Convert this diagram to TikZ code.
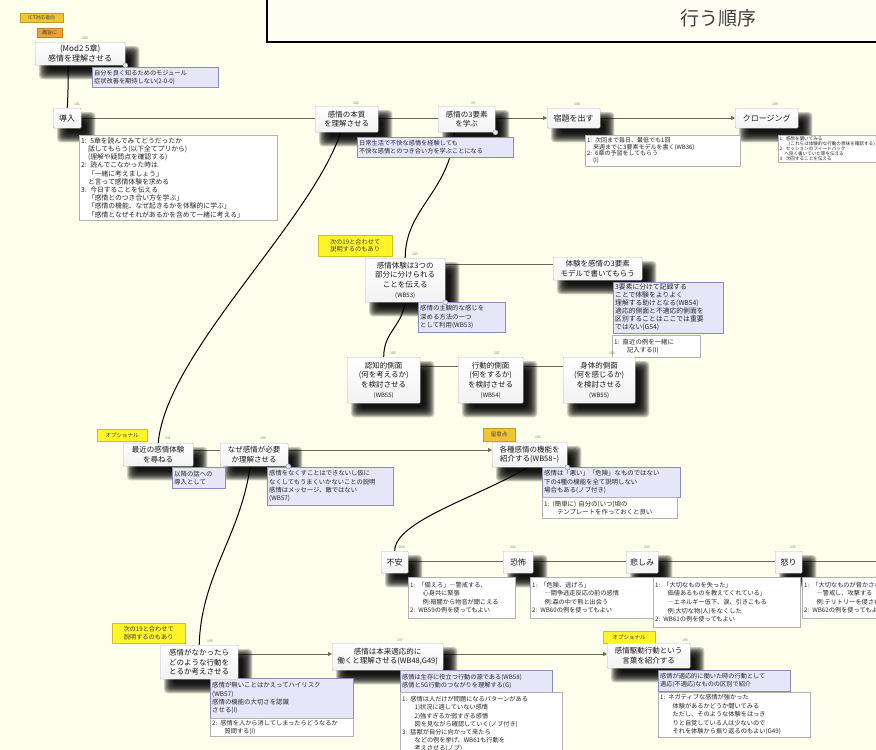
\documentclass[tikz,border=0pt]{standalone}
\usepackage{fontspec}
\setmainfont{Noto Sans CJK JP}
\usetikzlibrary{arrows.meta}
\pgfdeclarelayer{back}
\pgfdeclarelayer{conn}
\pgfdeclarelayer{shad}
\pgfsetlayers{back,conn,shad,main}
\definecolor{bgc}{RGB}{254,254,236}
\definecolor{hdrc}{RGB}{254,254,242}
\definecolor{calfill}{RGB}{230,230,248}
\definecolor{caldraw}{RGB}{140,140,185}
\definecolor{rowline}{RGB}{105,105,90}
\definecolor{ylw}{RGB}{255,244,40}
\definecolor{gold}{RGB}{240,196,50}
\definecolor{orng}{RGB}{240,162,50}
\tikzset{
  mnode/.style={draw=gray!55, line width=0.4pt, top color=white, bottom color=gray!10,
    rounded corners=1pt, align=center, inner sep=1pt, anchor=north west,
    font=\fontsize{7.5}{9.8}\selectfont, text=black!90},
  callout/.style={draw=caldraw, fill=calfill, line width=0.4pt, align=left, anchor=north west,
    inner sep=2pt, font=\fontsize{6.4}{8}\selectfont, text=black!85},
  note/.style={draw=gray!60, fill=white, line width=0.4pt, align=left, anchor=north west,
    inner sep=2pt, font=\fontsize{6.4}{8}\selectfont, text=black!85},
  tag/.style={anchor=north west, inner sep=0.5pt, align=center, fill=#1, draw=#1!80!black,
    line width=0.3pt, font=\fontsize{5.5}{6.8}\selectfont, text=black!75},
  num/.style={font=\fontsize{3.5}{4}\selectfont, text=gray, inner sep=0pt},
  row/.style={draw=rowline, line width=0.8pt},
  curve/.style={draw=black, line width=1pt},
  arr/.style={-{Triangle[length=4pt,width=4pt]}},
  dot/.style={circle, draw=caldraw, fill=calfill, inner sep=0pt, minimum size=5pt},
  shadowpart/.style={fill=black, opacity=0.2, rounded corners=4pt},
}
\newcommand\castshadow[1]{%
  \foreach \e in {-5,-4,...,5} {%
    \fill[shadowpart] ([xshift={(9-(\e))*1pt}, yshift={(-9+(\e))*1pt}]#1.north west)
      rectangle ([xshift={(9+(\e))*1pt}, yshift={(-9-(\e))*1pt}]#1.south east);
  }%
}
\begin{document}
\begin{tikzpicture}[x=1pt,y=-1pt]
\useasboundingbox (0,0) rectangle (876,750);
\begin{pgfonlayer}{back}
\fill[bgc] (0,0) rectangle (876,750);
\end{pgfonlayer}

% header
\draw[line width=1.1pt, fill=hdrc] (267,-5) rectangle (884,42);
\node[font=\fontsize{19}{21}\selectfont, text=black!75] (hdr) at (718,18) {行う順序};

% row coordinates
\coordinate (rA) at (0,118);
\coordinate (rB) at (0,264);
\coordinate (rC) at (0,366);
\coordinate (rD) at (0,450);
\coordinate (rE) at (0,561);
\coordinate (rF) at (0,654);
\coordinate (rEend) at (880,561);

% tags
\node[tag=gold, minimum width=43pt, minimum height=9pt, font=\fontsize{4.8}{5}\selectfont] (ict) at (20,13) {ICT対応者向};
\node[tag=orng, minimum width=25pt, minimum height=9pt, font=\fontsize{5}{5}\selectfont] (shushi) at (37,28) {趣旨に};
\node[tag=ylw, minimum width=74pt, minimum height=21pt, font=\fontsize{6.2}{7.6}\selectfont] (ya) at (318,235) {次の19と合わせて\\説明するのもあり};
\node[tag=ylw, minimum width=50pt, minimum height=12pt] (opta) at (97,429) {オプショナル};
\node[tag=gold, minimum width=32pt, minimum height=13pt] (ryui) at (483,428) {留意点};
\node[tag=ylw, minimum width=73pt, minimum height=20pt, font=\fontsize{6.2}{7.6}\selectfont] (yb) at (112,623) {次の19と合わせて\\説明するのもあり};
\node[tag=ylw, minimum width=52pt, minimum height=12pt] (optb) at (603,631) {オプショナル};

% callouts and notes
\node[callout, text width=122pt, minimum height=20pt, font=\fontsize{6.2}{7.8}\selectfont] (modc) at (92,67) {自分を良く知るためのモジュール\\症状改善を期待しない(2-0-0)};
\node[note, text width=194pt, minimum height=85pt, font=\fontsize{6.8}{8.2}\selectfont] (intn) at (79,135) {1: 5章を読んでみてどうだったか\\　話してもらう(以下全てプリから)\\　(理解や疑問点を確認する)\\2: 読んでこなかった時は\\　「一緒に考えましょう」\\　と言って感情体験を求める\\3: 今日することを伝える\\　「感情とのつき合い方を学ぶ」\\　「感情の機能、なぜ起きるかを体験的に学ぶ」\\　「感情となぜそれがあるかを含めて一緒に考える」};
\node[callout, text width=152pt, minimum height=20pt, font=\fontsize{6.2}{7.8}\selectfont] (honc) at (357,137) {日常生活で不快な感情を経験しても\\不快な感情とのつき合い方を学ぶことになる};
\node[note, text width=151pt, minimum height=28pt, font=\fontsize{6}{6.8}\selectfont] (shukn) at (585,135) {1: 次回まで毎日、最低でも1回\\　来週までに3要素モデルを書く(WB36)\\2: 6章の予習をしてもらう\\　(I)};
\node[note, text width=116pt, minimum height=27pt, inner sep=1.5pt, font=\fontsize{4.6}{4.9}\selectfont] (closn) at (778,135) {1: 感想を聞いてみる\\　　(これらは体験的な行動の意味を確認する)\\2: セッションのフィードバック\\　へ良く書いていた等を伝える\\3: 次回することを伝える};
\node[callout, text width=83pt, minimum height=30pt, font=\fontsize{6.4}{8.4}\selectfont] (t3c) at (418,302) {感情の主観的な感じを\\深める方法の一つ\\として利用(WB53)};
\node[callout, text width=106pt, minimum height=51pt, font=\fontsize{6.8}{8}\selectfont] (twc) at (613,282) {3要素に分けて記録する\\ことで体験をよりよく\\理解する助けとなる(WB54)\\適応的側面と不適応的側面を\\区別することはここでは重要\\ではない(G54)};
\node[note, text width=84pt, minimum height=22pt, font=\fontsize{6.4}{8}\selectfont] (twn) at (612,335) {1: 直近の例を一緒に\\　　記入する(I)};
\node[callout, text width=49pt, minimum height=21pt, font=\fontsize{6.4}{8}\selectfont] (sac) at (172,467) {以降の話への\\導入として};
\node[callout, text width=122pt, minimum height=38pt, font=\fontsize{6.3}{8.2}\selectfont] (nzc) at (267,467) {感情をなくすことはできないし仮に\\なくしてもうまくいかないことの説明\\感情はメッセージ、敵ではない\\(WB57)};
\node[callout, text width=134pt, minimum height=30pt, font=\fontsize{6.4}{8.4}\selectfont] (kkc) at (542,467) {感情は「悪い」「危険」なものではない\\下の4種の機能を全て説明しない\\場合もある(ノブ付き)};
\node[note, text width=131pt, minimum height=21pt, font=\fontsize{6.4}{8}\selectfont] (kkn) at (542,497) {1: (簡単に) 自分の(いつ)頃の\\　　テンプレートを作っておくと良い};
\node[note, text width=103pt, minimum height=41pt, font=\fontsize{6.2}{8.6}\selectfont] (fun) at (408,577) {1: 「備えろ」―警戒する、\\　　心身共に緊張\\　　例:暗闇から物音が聞こえる\\2: WB59の例を使ってもよい};
\node[note, text width=121pt, minimum height=41pt, font=\fontsize{6.2}{8.6}\selectfont] (kyn) at (530,577) {1: 「危険、逃げろ」\\　　―闘争逃走反応の前の感情\\　　例:森の中で熊と出会う\\2: WB60の例を使ってもよい};
\node[note, text width=143pt, minimum height=50pt, font=\fontsize{6.2}{8.6}\selectfont] (kan) at (653,577) {1: 「大切なものを失った」\\　　価値あるものを教えてくれている」\\　　―エネルギー低下、涙、引きこもる\\　　例:大切な物(人)をなくした\\2: WB61の例を使ってもよい};
\node[note, text width=121pt, minimum height=41pt, font=\fontsize{6.2}{8.6}\selectfont] (ikn) at (802,577) {1: 「大切なものが脅かされている」\\　　―警戒し、攻撃する\\　　例:テリトリーを侵される\\2: WB62の例を使ってもよい};
\node[callout, text width=139pt, minimum height=40pt, font=\fontsize{6.4}{8.4}\selectfont] (nkc) at (210,678) {感情が無いことはかえってハイリスク\\(WB57)\\感情の機能の大切さを認識\\させる(I)};
\node[note, text width=139pt, minimum height=18pt, font=\fontsize{6.2}{7.6}\selectfont] (nkn) at (210,718) {2: 感情を人から消してしまったらどうなるか\\　　質問する(I)};
\node[callout, text width=148pt, minimum height=22pt, font=\fontsize{6.2}{8}\selectfont] (hrc) at (400,670) {感情は生存に役立つ行動の源である(WB58)\\感情と5G行動のつながりを理解する(G)};
\node[note, text width=158pt, minimum height=64pt, font=\fontsize{6.2}{8.2}\selectfont] (hrn) at (400,692) {1: 感情は人だけが問題になるパターンがある\\　　1)状況に適していない感情\\　　2)強すぎるか弱すぎる感情\\　　図を見ながら確認していく(ノブ付き)\\3: 猛獣が自分に向かって来たら\\　　などの例を挙げ、WB61も行動を\\　　考えさせる(ノブ)};
\node[callout, text width=128pt, minimum height=21pt, font=\fontsize{6.2}{8}\selectfont] (kdc) at (658,670) {感情が適応的に働いた時の行動として\\適応(不適応)なものの区別で紹介};
\node[note, text width=148pt, minimum height=45pt, font=\fontsize{6.2}{8.4}\selectfont] (kdn) at (658,692) {1: ネガティブな感情が強かった\\　　体験があるかどうか聞いてみる\\　　ただし、そのような体験をはっき\\　　りと自覚している人は少ないので\\　　それを体験から振り返るのもよい(G49)};

% main nodes
\node[mnode, minimum width=90pt, minimum height=23pt, font=\fontsize{8}{10}\selectfont] (mod) at (35,42) {(Mod2 5章)\\感情を理解させる};
\node[mnode, minimum width=28pt, minimum height=20pt, font=\fontsize{8}{10}\selectfont] (intro) at (53,108) {導入};
\node[mnode, minimum width=63pt, minimum height=26pt] (honshitsu) at (315,106) {感情の本質\\を理解させる};
\node[mnode, minimum width=57pt, minimum height=26pt] (youso) at (438,106) {感情の3要素\\を学ぶ};
\node[mnode, minimum width=53pt, minimum height=20pt, font=\fontsize{8}{10}\selectfont] (shukudai) at (547,108) {宿題を出す};
\node[mnode, minimum width=63pt, minimum height=20pt, font=\fontsize{8}{10}\selectfont] (closing) at (735,108) {クロージング};
\node[mnode, minimum width=80pt, minimum height=44pt] (taiken3) at (365,258) {感情体験は3つの\\部分に分けられる\\ことを伝える\\{\fontsize{6}{8}\selectfont (WB53)}};
\node[mnode, minimum width=89pt, minimum height=23pt, font=\fontsize{7.5}{9.5}\selectfont] (taikenwo) at (553,257) {体験を感情の3要素\\モデルで書いてもらう};
\node[mnode, minimum width=73pt, minimum height=46pt] (ninchi) at (347,357) {認知的側面\\(何を考えるか)\\を検討させる\\{\fontsize{6}{8}\selectfont (WB55)}};
\node[mnode, minimum width=65pt, minimum height=46pt] (koudou) at (458,357) {行動的側面\\(何をするか)\\を検討させる\\{\fontsize{6}{8}\selectfont (WB54)}};
\node[mnode, minimum width=72pt, minimum height=46pt] (shintai) at (563,357) {身体的側面\\(何を感じるか)\\を検討させる\\{\fontsize{6}{8}\selectfont (WB55)}};
\node[mnode, minimum width=70pt, minimum height=23pt, font=\fontsize{7.5}{9.5}\selectfont] (saikin) at (123,443) {最近の感情体験\\を尋ねる};
\node[mnode, minimum width=68pt, minimum height=23pt, font=\fontsize{7.5}{9.5}\selectfont] (naze) at (220,443) {なぜ感情が必要\\か理解させる};
\node[mnode, minimum width=75pt, minimum height=25pt, font=\fontsize{7.5}{9.5}\selectfont] (kakushu) at (492,442) {各種感情の機能を\\紹介する(WB58\textasciitilde)};
\node[mnode, minimum width=27pt, minimum height=22pt, font=\fontsize{8}{10}\selectfont] (fuan) at (381,551) {不安};
\node[mnode, minimum width=30pt, minimum height=22pt, font=\fontsize{8}{10}\selectfont] (kyoufu) at (503,551) {恐怖};
\node[mnode, minimum width=32pt, minimum height=22pt, font=\fontsize{8}{10}\selectfont] (kanashimi) at (626,551) {悲しみ};
\node[mnode, minimum width=27pt, minimum height=22pt, font=\fontsize{8}{10}\selectfont] (ikari) at (775,551) {怒り};
\node[mnode, minimum width=78pt, minimum height=34pt, font=\fontsize{7.5}{9.5}\selectfont] (nakattara) at (160,645) {感情がなかったら\\どのような行動を\\とるか考えさせる};
\node[mnode, minimum width=111pt, minimum height=27pt, font=\fontsize{7.5}{9.5}\selectfont] (honrai) at (332,643) {感情は本来適応的に\\働くと理解させる(WB48,G49)};
\node[mnode, minimum width=83pt, minimum height=25pt, font=\fontsize{7.5}{9.5}\selectfont] (kudou) at (607,643) {感情駆動行動という\\言葉を紹介する};

% shadows
\begin{pgfonlayer}{shad}
\foreach \nd in {mod,intro,honshitsu,youso,shukudai,closing,taiken3,taikenwo,ninchi,koudou,shintai,saikin,naze,kakushu,fuan,kyoufu,kanashimi,ikari,nakattara,honrai,kudou} {\castshadow{\nd}}
\end{pgfonlayer}

% callout anchors
\node[dot] (dm) at (mod.south east) {};
\node[dot] (dy) at (youso.south east) {};
\node[dot] (dt) at (taiken3.south east) {};
\node[dot] (dn) at (naze.south east) {};
\node[dot] (dk) at (kakushu.south east) {};

% small numbers
\node[num] (n0) at (85,38) {180};
\node[num] (n1) at (77,104) {181};
\node[num] (n2) at (356,103) {182};
\node[num] (n3) at (473,103) {19};
\node[num] (n4) at (577,104) {188};
\node[num] (n5) at (775,104) {189};
\node[num] (n6) at (415,254) {183};
\node[num] (n7) at (393,353) {185};
\node[num] (n8) at (497,353) {187};
\node[num] (n9) at (612,353) {186};
\node[num] (n10) at (168,438) {191};
\node[num] (n11) at (263,438) {190};
\node[num] (n12) at (538,437) {192};
\node[num] (n13) at (402,547) {200};
\node[num] (n14) at (513,547) {202};
\node[num] (n15) at (647,547) {203};
\node[num] (n16) at (793,547) {205};
\node[num] (n17) at (210,641) {199};
\node[num] (n18) at (400,640) {197};
\node[num] (n19) at (685,640) {198};

% connectors
\begin{pgfonlayer}{conn}
\draw[curve] ([xshift=-12pt]mod.south) .. controls +(0,16) and +(1,-16) .. (intro.north);
\draw[row] (intro.east |- rA) -- (honshitsu.west |- rA);
\draw[row] (honshitsu.east |- rA) -- (youso.west |- rA);
\draw[row,arr] (youso.east |- rA) -- (shukudai.west |- rA);
\draw[row,arr] (shukudai.east |- rA) -- (closing.west |- rA);
\draw[curve] ([xshift=-6pt]honshitsu.south) .. controls +(-30,90) and +(8,-90) .. (saikin.north);
\draw[curve] ([xshift=-12pt]youso.south) .. controls +(-5,60) and +(0,-50) .. (taiken3.north);
\draw[row] (taiken3.east |- rB) -- (taikenwo.west |- rB);
\draw[curve] (taiken3.south) .. controls +(-4,25) and +(0,-25) .. (ninchi.north);
\draw[row] (ninchi.east |- rC) -- (koudou.west |- rC);
\draw[row] (koudou.east |- rC) -- (shintai.west |- rC);
\draw[row] (saikin.east |- rD) -- (naze.west |- rD);
\draw[row,arr] (naze.east |- rD) -- (kakushu.west |- rD);
\draw[curve] ([xshift=-4pt]naze.south) .. controls +(-10,70) and +(2,-70) .. (nakattara.north);
\draw[curve] ([xshift=-2pt]kakushu.south) .. controls +(-50,30) and +(0,-30) .. (fuan.north);
\draw[row] (fuan.east |- rE) -- (kyoufu.west |- rE);
\draw[row] (kyoufu.east |- rE) -- (kanashimi.west |- rE);
\draw[row] (kanashimi.east |- rE) -- (ikari.west |- rE);
\draw[row] (ikari.east |- rE) -- (rEend);
\draw[row,arr] (nakattara.east |- rF) -- (honrai.west |- rF);
\draw[row,arr] (honrai.east |- rF) -- (kudou.west |- rF);
\end{pgfonlayer}
\end{tikzpicture}
\end{document}
